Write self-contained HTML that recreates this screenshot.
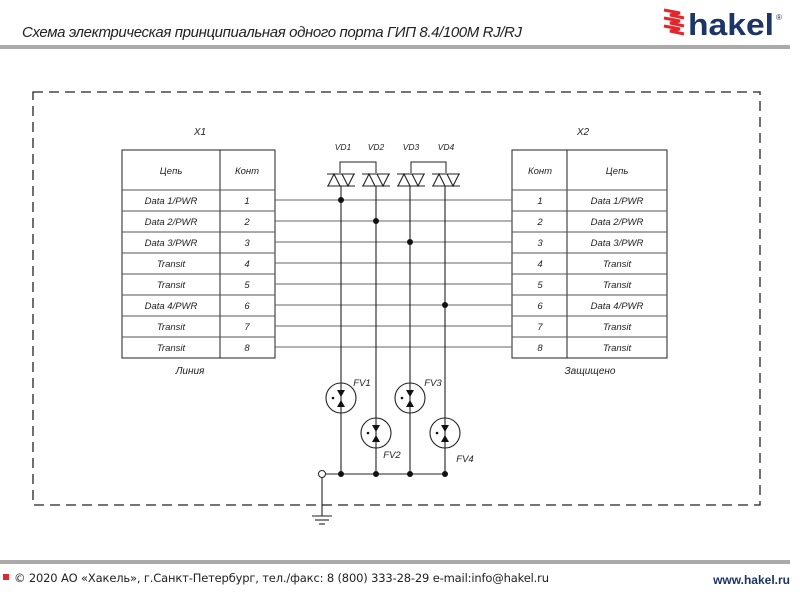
<!DOCTYPE html>
<html><head><meta charset="utf-8"><style>
html,body{margin:0;padding:0;background:#fff;width:800px;height:600px;overflow:hidden}
svg{display:block}
</style></head><body>
<svg width="800" height="600" viewBox="0 0 800 600" xmlns="http://www.w3.org/2000/svg" font-family="Liberation Sans, DejaVu Sans, sans-serif">
<text x="22" y="37" font-size="15" font-style="italic" fill="#222" textLength="500">Схема электрическая принципиальная одного порта ГИП 8.4/100M RJ/RJ</text>
<rect x="0" y="45" width="790" height="4" fill="#aaa"/>
<g fill="none" stroke="#e3262b" stroke-width="3" stroke-linejoin="miter">
<polyline points="664,10 680,13 670,15 684,18"/>
<polyline points="664,18 680,21 670,23 684,26"/>
<polyline points="664,26 680,29 670,31 684,34"/>
</g>
<text x="688" y="35" font-size="31" font-weight="bold" fill="#1c3466" font-family="Liberation Sans, sans-serif" textLength="86" lengthAdjust="spacingAndGlyphs">hakel</text>
<text x="776" y="20" font-size="8" fill="#1c3466">®</text>

<rect x="33" y="92" width="727" height="413" fill="none" stroke="#222" stroke-width="1.3" stroke-dasharray="10,6"/>

<g font-style="italic" font-size="10" fill="#222" text-anchor="middle">
<text x="200" y="135">X1</text><text x="583" y="135">X2</text>
<text x="190" y="374">Линия</text><text x="590" y="374">Защищено</text>
</g>
<g stroke="#222" fill="none">
<rect x="122" y="150" width="153" height="208"/>
<line x1="220" y1="150" x2="220" y2="358"/>
<rect x="512" y="150" width="155" height="208"/>
<line x1="567" y1="150" x2="567" y2="358"/>
</g>
<g stroke="#555" stroke-width="1">
<line x1="122" y1="190" x2="275" y2="190"/><line x1="512" y1="190" x2="667" y2="190"/>
<line x1="122" y1="211" x2="275" y2="211"/><line x1="512" y1="211" x2="667" y2="211"/>
<line x1="122" y1="232" x2="275" y2="232"/><line x1="512" y1="232" x2="667" y2="232"/>
<line x1="122" y1="253" x2="275" y2="253"/><line x1="512" y1="253" x2="667" y2="253"/>
<line x1="122" y1="274" x2="275" y2="274"/><line x1="512" y1="274" x2="667" y2="274"/>
<line x1="122" y1="295" x2="275" y2="295"/><line x1="512" y1="295" x2="667" y2="295"/>
<line x1="122" y1="316" x2="275" y2="316"/><line x1="512" y1="316" x2="667" y2="316"/>
<line x1="122" y1="337" x2="275" y2="337"/><line x1="512" y1="337" x2="667" y2="337"/>
</g>
<g stroke="#666" stroke-width="1">
<line x1="275" y1="200" x2="512" y2="200"/><line x1="275" y1="221" x2="512" y2="221"/>
<line x1="275" y1="242" x2="512" y2="242"/><line x1="275" y1="263" x2="512" y2="263"/>
<line x1="275" y1="284" x2="512" y2="284"/><line x1="275" y1="305" x2="512" y2="305"/>
<line x1="275" y1="326" x2="512" y2="326"/><line x1="275" y1="347" x2="512" y2="347"/>
</g>
<g font-style="italic" font-size="9.5" fill="#222" text-anchor="middle">
<text x="171" y="174">Цепь</text><text x="247" y="174">Конт</text>
<text x="540" y="174">Конт</text><text x="617" y="174">Цепь</text>
<text x="171" y="204">Data 1/PWR</text><text x="247" y="204">1</text><text x="540" y="204">1</text><text x="617" y="204">Data 1/PWR</text>
<text x="171" y="225">Data 2/PWR</text><text x="247" y="225">2</text><text x="540" y="225">2</text><text x="617" y="225">Data 2/PWR</text>
<text x="171" y="246">Data 3/PWR</text><text x="247" y="246">3</text><text x="540" y="246">3</text><text x="617" y="246">Data 3/PWR</text>
<text x="171" y="267">Transit</text><text x="247" y="267">4</text><text x="540" y="267">4</text><text x="617" y="267">Transit</text>
<text x="171" y="288">Transit</text><text x="247" y="288">5</text><text x="540" y="288">5</text><text x="617" y="288">Transit</text>
<text x="171" y="309">Data 4/PWR</text><text x="247" y="309">6</text><text x="540" y="309">6</text><text x="617" y="309">Data 4/PWR</text>
<text x="171" y="330">Transit</text><text x="247" y="330">7</text><text x="540" y="330">7</text><text x="617" y="330">Transit</text>
<text x="171" y="351">Transit</text><text x="247" y="351">8</text><text x="540" y="351">8</text><text x="617" y="351">Transit</text>
<text x="343" y="150" font-size="8.5">VD1</text><text x="376" y="150" font-size="8.5">VD2</text>
<text x="411" y="150" font-size="8.5">VD3</text><text x="446" y="150" font-size="8.5">VD4</text>
<text x="362" y="386">FV1</text><text x="392" y="458">FV2</text><text x="433" y="386">FV3</text><text x="465" y="462">FV4</text>
</g>
<g stroke="#222" fill="none" stroke-width="1">
<polyline points="340,173 340,162 376,162 376,173"/>
<polyline points="411,173 411,162 446,162 446,173"/>
</g>
<g stroke="#222" fill="none" stroke-width="1.1">
<g transform="translate(341,174)"><line x1="-14" y1="0" x2="14" y2="0"/><line x1="-14" y1="12" x2="14" y2="12"/><polyline points="-13,12 -7,0 -1,12"/><polyline points="1,0 7,12 13,0"/></g>
<g transform="translate(376,174)"><line x1="-14" y1="0" x2="14" y2="0"/><line x1="-14" y1="12" x2="14" y2="12"/><polyline points="-13,12 -7,0 -1,12"/><polyline points="1,0 7,12 13,0"/></g>
<g transform="translate(411,174)"><line x1="-14" y1="0" x2="14" y2="0"/><line x1="-14" y1="12" x2="14" y2="12"/><polyline points="-13,12 -7,0 -1,12"/><polyline points="1,0 7,12 13,0"/></g>
<g transform="translate(446,174)"><line x1="-14" y1="0" x2="14" y2="0"/><line x1="-14" y1="12" x2="14" y2="12"/><polyline points="-13,12 -7,0 -1,12"/><polyline points="1,0 7,12 13,0"/></g>
</g>
<g stroke="#222" stroke-width="1.1">
<line x1="341" y1="186" x2="341" y2="474"/><line x1="376" y1="186" x2="376" y2="474"/>
<line x1="410" y1="186" x2="410" y2="474"/><line x1="445" y1="186" x2="445" y2="474"/>
<line x1="326" y1="474" x2="445" y2="474"/>
<line x1="322" y1="478" x2="322" y2="516"/>
<line x1="312" y1="516" x2="332" y2="516"/><line x1="315" y1="520" x2="329" y2="520"/><line x1="319" y1="524" x2="325" y2="524"/>
</g>
<circle cx="322" cy="474" r="3.5" fill="#fff" stroke="#222"/>
<g fill="#111">
<circle cx="341" cy="200" r="3"/><circle cx="376" cy="221" r="3"/><circle cx="410" cy="242" r="3"/><circle cx="445" cy="305" r="3"/>
<circle cx="341" cy="474" r="3"/><circle cx="376" cy="474" r="3"/><circle cx="410" cy="474" r="3"/><circle cx="445" cy="474" r="3"/>
</g>
<g stroke="#222" fill="#fff" stroke-width="1.1">
<circle cx="341" cy="398" r="15"/><circle cx="376" cy="433" r="15"/><circle cx="410" cy="398" r="15"/><circle cx="445" cy="433" r="15"/>
</g>
<g stroke="#222" stroke-width="1.1">
<line x1="341" y1="383" x2="341" y2="413"/><line x1="376" y1="418" x2="376" y2="448"/>
<line x1="410" y1="383" x2="410" y2="413"/><line x1="445" y1="418" x2="445" y2="448"/>
</g>
<g fill="#111">
<polygon points="337,390 345,390 341,397"/><polygon points="337,407 345,407 341,400"/><circle cx="333" cy="398" r="1.3"/>
<polygon points="406,390 414,390 410,397"/><polygon points="406,407 414,407 410,400"/><circle cx="402" cy="398" r="1.3"/>
<polygon points="372,425 380,425 376,432"/><polygon points="372,442 380,442 376,435"/><circle cx="368" cy="433" r="1.3"/>
<polygon points="441,425 449,425 445,432"/><polygon points="441,442 449,442 445,435"/><circle cx="437" cy="433" r="1.3"/>
</g>

<rect x="0" y="560" width="790" height="4" fill="#aaa"/>
<rect x="3" y="574" width="6" height="6" fill="#e3262b"/>
<text x="14" y="582" font-size="11.5" fill="#222" font-family="DejaVu Sans, sans-serif" textLength="535">© 2020 АО «Хакель», г.Санкт-Петербург, тел./факс: 8 (800) 333-28-29    e-mail:info@hakel.ru</text>
<text x="790" y="584" font-size="12" font-weight="bold" fill="#1c3466" text-anchor="end">www.hakel.ru</text>
</svg>
</body></html>
